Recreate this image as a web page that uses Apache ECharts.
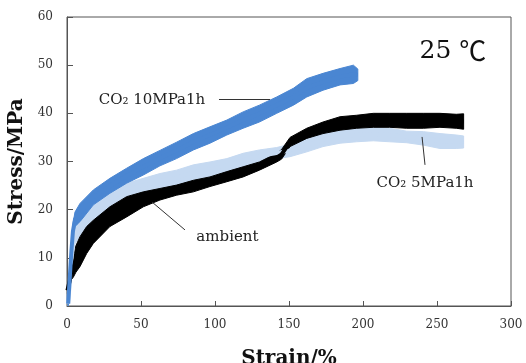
<!DOCTYPE html>
<html>
<head>
<meta charset="utf-8">
<script src="https://cdn.jsdelivr.net/npm/echarts@6/dist/echarts.min.js"></script>
<style>
html,body{margin:0;padding:0;background:#fff;}
#c{width:526px;height:363px;}
</style>
</head>
<body>
<div id="c"></div>
<script>
// Axis ticks
const xTicks = [0, 50, 100, 150, 200, 250, 300];
const yTicks = [0, 10, 20, 30, 40, 50, 60];

// CO2 10MPa1h (blue band: lower / upper edge of noisy trace)
const strain10 = [0.8, 2, 3, 4, 5.4, 8.8, 17.8, 29, 40.3, 51.6, 62.8, 74, 85.4, 96.6, 108, 119, 130, 141.7, 153, 162, 173, 184.5, 193.5, 196.5];
const low10    = [0, 5, 10, 14, 16.5, 17.5, 21, 23.4, 25.5, 27.2, 29.1, 30.6, 32.4, 33.8, 35.5, 36.9, 38.2, 40, 41.7, 43.4, 44.8, 45.9, 46.2, 46.8];
const up10     = [1, 8, 13, 17, 19.5, 21.3, 24.1, 26.5, 28.6, 30.6, 32.3, 34, 35.8, 37.2, 38.6, 40.3, 41.7, 43.4, 45.2, 47.2, 48.3, 49.3, 50, 49.2];

// CO2 5MPa1h (light blue band)
const strain5 = [0.8, 2, 3, 4, 5.4, 8.8, 17.8, 29, 40.3, 51.6, 62.8, 74, 85.4, 96.6, 108, 119, 130, 141.7, 150.7, 162, 173, 184.5, 195.7, 207, 218, 229.5, 240.8, 252, 263, 268];
const low5    = [0, 4, 8, 11, 13, 14.4, 17.2, 20.6, 22.7, 23.7, 24.4, 25.1, 26.1, 26.8, 27.9, 28.9, 29.9, 30.6, 31.0, 32, 33.1, 33.8, 34.1, 34.3, 34.1, 33.9, 33.4, 32.7, 32.7, 32.8];
const up5     = [1, 7, 11, 14, 16.5, 19.2, 22, 24.1, 25.5, 26.5, 27.5, 28.2, 29.3, 29.9, 30.6, 31.7, 32.4, 32.9, 33.6, 35, 35.8, 36.5, 36.9, 37.1, 36.9, 36.3, 36.2, 35.8, 35.5, 35.3];

// ambient (black band)
const strainA = [0.3, 2, 3, 4.3, 6, 8.8, 13.3, 17.8, 29, 40.3, 51.6, 62.8, 74, 85.4, 96.6, 108, 119, 130, 141.7, 145, 150.7, 162, 173, 184.5, 195.7, 207, 218, 229.5, 240.8, 252, 263, 268];
const lowA    = [2.5, 4, 5.5, 6, 7, 8.2, 10.9, 13, 16.5, 18.5, 20.6, 22, 23, 23.7, 24.8, 25.8, 26.8, 28.2, 29.9, 30.5, 33.1, 34.8, 35.8, 36.5, 36.9, 37.1, 37.1, 36.9, 36.9, 37.1, 36.9, 36.7];
const upA     = [4, 7, 9, 10, 12.5, 14.4, 16.5, 17.8, 20.6, 22.7, 23.7, 24.4, 25.1, 26.1, 26.8, 27.9, 28.9, 29.9, 31.7, 32.5, 35, 36.9, 38.2, 39.3, 39.6, 40, 40, 40, 40, 40, 39.8, 39.9];

// Annotations (data coordinates)
const labels = [
  {text: 'CO₂ 10MPa1h', at: [57.4, 42.8]},
  {text: 'ambient', at: [108.4, 14.3]},
  {text: 'CO₂ 5MPa1h', at: [241.9, 25.5]},
];
const leaders = [
  [[102.7, 42.9], [137.2, 42.9]],
  [[79.7, 15.8], [57.4, 21.6]],
  [[241.9, 29.3], [239.9, 35.1]],
];
const tempLabel = {num: '25', unit: '℃', at: [260.8, 52.9]};

function band(name, xs, lo, hi, color) {
  const s = [];
  s.push({
    name: name, type: 'custom', coordinateSystem: 'cartesian2d', silent: true,
    data: [[xs[0], lo[0]]],
    encode: {x: 0, y: 1},
    renderItem: function (params, api) {
      const pts = [];
      for (let i = 0; i < xs.length; i++) pts.push(api.coord([xs[i], hi[i]]));
      for (let i = xs.length - 1; i >= 0; i--) pts.push(api.coord([xs[i], lo[i]]));
      return {type: 'polygon', shape: {points: pts}, style: {fill: color, stroke: color, lineWidth: 1}};
    }
  });
  s.push({
    name: name + '_mid', type: 'line', data: xs.map((x, i) => [x, (lo[i] + hi[i]) / 2]),
    showSymbol: false, symbol: 'none', lineStyle: {color: color, width: 4, cap: 'butt'}, silent: true
  });
  return s;
}

const series = [].concat(
  band('CO2 5MPa1h', strain5, low5, up5, '#c5d9f1'),
  band('ambient', strainA, lowA, upA, '#000000'),
  band('CO2 10MPa1h', strain10, low10, up10, '#4a86d2')
);

series.push({
  name: 'annot', type: 'line', data: [], silent: true,
  markLine: {
    silent: true, symbol: ['none', 'none'], animation: false,
    label: {show: false},
    lineStyle: {color: '#333', width: 1, type: 'solid'},
    data: leaders.map(l => [{coord: l[0]}, {coord: l[1]}])
  },
  markPoint: {
    silent: true, animation: false, symbol: 'rect', symbolSize: 1,
    itemStyle: {color: 'rgba(0,0,0,0)'},
    data: labels.map(l => ({
      coord: l.at, value: l.text,
      label: {show: true, position: 'inside', formatter: l.text, color: '#222',
        fontFamily: "'DejaVu Serif', serif", fontSize: 15}
    })).concat([{
      coord: tempLabel.at, value: tempLabel.num,
      label: {show: true, position: 'inside',
        formatter: '{d|' + tempLabel.num + ' }{u|' + tempLabel.unit + '}',
        rich: {
          d: {color: '#111', fontFamily: "'DejaVu Serif', serif", fontSize: 25},
          u: {color: '#111', fontFamily: "'Noto Sans CJK JP'", fontSize: 27}
        }}
    }])
  }
});

const chart = echarts.init(document.getElementById('c'), null, {renderer: 'canvas'});
chart.setOption({
  animation: false,
  backgroundColor: '#fff',
  grid: {left: 67, right: 15, top: 17, bottom: 57, outerBoundsMode: 'none', containLabel: false,
    show: true, borderColor: '#555', borderWidth: 1, backgroundColor: 'transparent'},
  xAxis: {
    type: 'value', min: xTicks[0], max: xTicks[xTicks.length - 1], interval: xTicks[1] - xTicks[0],
    name: 'Strain/%', nameLocation: 'middle', nameGap: 43,
    nameTextStyle: {fontFamily: "'DejaVu Serif', serif", fontWeight: 'bold', fontSize: 20, color: '#111'},
    axisLine: {show: true, lineStyle: {color: '#555', width: 1}},
    axisTick: {show: true, inside: true, length: 5, lineStyle: {color: '#555'}},
    axisLabel: {margin: 13, color: '#333', fontFamily: "'DejaVu Serif', serif", fontSize: 12},
    splitLine: {show: false}
  },
  yAxis: {
    type: 'value', min: yTicks[0], max: yTicks[yTicks.length - 1], interval: yTicks[1] - yTicks[0],
    name: 'Stress/MPa', nameLocation: 'middle', nameGap: 38, nameRotate: 90,
    nameTextStyle: {fontFamily: "'DejaVu Serif', serif", fontWeight: 'bold', fontSize: 20, color: '#111'},
    axisLine: {show: true, lineStyle: {color: '#555', width: 1}},
    axisTick: {show: true, inside: true, length: 6, lineStyle: {color: '#555'}},
    axisLabel: {margin: 14, color: '#333', fontFamily: "'DejaVu Serif', serif", fontSize: 12},
    splitLine: {show: false}
  },
  series: series
});
</script>
</body>
</html>
